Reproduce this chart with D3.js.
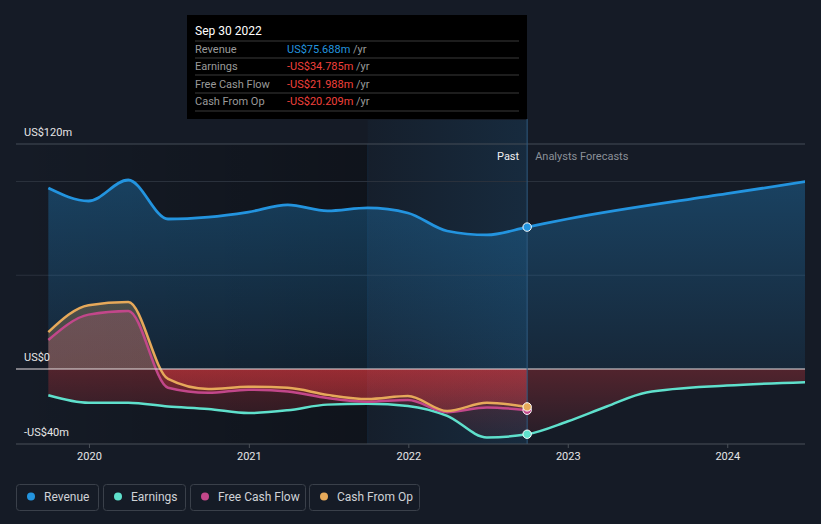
<!DOCTYPE html>
<html><head><meta charset="utf-8">
<script src="https://cdn.jsdelivr.net/npm/d3@7"></script>
<style>
html,body{margin:0;padding:0;background:#151b26;}
svg{display:block;font-family:Roboto,"Noto Sans",sans-serif;}
</style></head>
<body>
<svg id="c" width="821" height="524"></svg>
<script>
// ---- data ----
const pastDates = ["2019-09-30","2019-12-31","2020-03-31","2020-06-30","2020-09-30","2020-12-31","2021-03-31","2021-06-30","2021-09-30","2021-12-31","2022-03-31","2022-06-30","2022-09-30"];
const revenuePast = [96.5, 89.6, 100.8, 80.0, 81.0, 83.7, 87.5, 84.3, 85.9, 83.2, 73.6, 71.5, 75.688];
const earningsPast = [-14.0, -18.0, -18.0, -20.0, -21.3, -23.5, -22.0, -19.0, -18.5, -19.7, -25.0, -36.5, -34.785];
const fcfPast = [15.5, 29.0, 31.0, -10.0, -12.7, -11.0, -12.0, -15.5, -17.4, -16.5, -23.0, -20.5, -21.988];
const cfoPast = [19.7, 34.0, 35.7, -5.3, -10.7, -9.5, -10.0, -13.8, -16.0, -14.4, -22.4, -18.0, -20.209];
const forecastRevDates = ["2022-09-30","2022-12-31","2023-12-31","2024-06-30"];
const revenueForecast = [75.688, 80.0, 93.5, 100.0];
const forecastEarnDates = ["2022-09-30","2022-12-31","2023-03-31","2023-06-30","2023-12-31","2024-06-30"];
const earningsForecast = [-34.785, -28.0, -20.0, -12.5, -8.8, -7.0];
const yTickValues = [120, 0, -40];
const yTickLabels = ["US$120m", "US$0", "-US$40m"];
const yGridValues = [100, 50];
const xTickYears = [2020, 2021, 2022, 2023, 2024];
const seriesNames = ["Revenue", "Earnings", "Free Cash Flow", "Cash From Op"];
const seriesColors = ["#2394df", "#5fe0cc", "#c2478a", "#e6a95a"];
const tooltipTitle = "Sep 30 2022";
const tooltipValues = ["US$75.688m", "-US$34.785m", "-US$21.988m", "-US$20.209m"];

// ---- setup ----
const svg = d3.select("#c");
const W = 821, H = 524;
const pd = d3.timeParse("%Y-%m-%d");
const x = d3.scaleTime().domain([new Date(2019,6,18), new Date(2024,5,27)]).range([16, 805]);
const y = d3.scaleLinear().domain([-40, 120]).range([444, 144]);
const x0 = 16, x1 = 805;
const pastEnd = pd("2022-09-30");
const hlStart = pd("2021-09-30");

const defs = svg.append("defs");
defs.append("clipPath").attr("id","plot").append("rect").attr("x",x0).attr("y",100).attr("width",x1-x0).attr("height",344);

// background bands
const gDark = defs.append("linearGradient").attr("id","gDark").attr("x1",0).attr("x2",1).attr("y1",0).attr("y2",0);
gDark.append("stop").attr("offset",0).attr("stop-color","#000").attr("stop-opacity",0);
gDark.append("stop").attr("offset",1).attr("stop-color","#000").attr("stop-opacity",0.28);
svg.append("rect").attr("x",x0).attr("y",144).attr("width",x(hlStart)-x0).attr("height",300).attr("fill","url(#gDark)");

const gHl = defs.append("linearGradient").attr("id","gHl").attr("x1",0).attr("x2",1).attr("y1",0).attr("y2",0);
gHl.append("stop").attr("offset",0).attr("stop-color","#2394df").attr("stop-opacity",0.03);
gHl.append("stop").attr("offset",1).attr("stop-color","#2394df").attr("stop-opacity",0.13);
svg.append("rect").attr("x",x(hlStart)).attr("y",120).attr("width",x(pastEnd)-x(hlStart)).attr("height",324).attr("fill","url(#gHl)");
svg.append("line").attr("x1",x(hlStart)).attr("x2",x(hlStart)).attr("y1",144).attr("y2",444).attr("stroke","#2394df").attr("stroke-opacity",0.1);

// gridlines
svg.append("line").attr("x1",x0).attr("x2",x1).attr("y1",y(120)).attr("y2",y(120)).attr("stroke","#454c56").attr("stroke-width",1);
yGridValues.forEach(v=>{
  svg.append("line").attr("x1",x0).attr("x2",x1).attr("y1",y(v)).attr("y2",y(v)).attr("stroke","#2a313c").attr("stroke-width",1);
});

// series data
const mk = (ds, vs) => ds.map((d,i)=>({date:pd(d), v:vs[i]}));
const revAll = mk(pastDates, revenuePast).concat(mk(forecastRevDates, revenueForecast).slice(1));
const earnAll = mk(pastDates, earningsPast).concat(mk(forecastEarnDates, earningsForecast).slice(1));
const fcf = mk(pastDates, fcfPast);
const cfo = mk(pastDates, cfoPast);

const curve = d3.curveMonotoneX;
const line = d3.line().x(d=>x(d.date)).y(d=>y(d.v)).curve(curve);
const area = d3.area().x(d=>x(d.date)).y0(y(0)).y1(d=>y(d.v)).curve(curve);

const plot = svg.append("g").attr("clip-path","url(#plot)");

// revenue area gradient
const gRev = defs.append("linearGradient").attr("id","gRev").attr("gradientUnits","userSpaceOnUse").attr("x1",0).attr("x2",0).attr("y1",y(100)).attr("y2",y(0));
gRev.append("stop").attr("offset",0).attr("stop-color","#2394df").attr("stop-opacity",0.32);
gRev.append("stop").attr("offset",1).attr("stop-color","#2394df").attr("stop-opacity",0.1);
plot.append("path").datum(revAll).attr("d",area).attr("fill","url(#gRev)");

// sign-based gradients for the others
function signGrad(id, col){
  const g = defs.append("linearGradient").attr("id",id).attr("gradientUnits","userSpaceOnUse").attr("x1",0).attr("x2",0).attr("y1",y(120)).attr("y2",y(-40));
  const z = (y(0)-y(120))/(y(-40)-y(120));
  g.append("stop").attr("offset",0).attr("stop-color",col).attr("stop-opacity",0.25);
  g.append("stop").attr("offset",z).attr("stop-color",col).attr("stop-opacity",0.25);
  g.append("stop").attr("offset",z).attr("stop-color","#e0383e").attr("stop-opacity",0.3);
  g.append("stop").attr("offset",1).attr("stop-color","#e0383e").attr("stop-opacity",0.06);
}
signGrad("gE", seriesColors[1]);
signGrad("gF", seriesColors[2]);
signGrad("gC", seriesColors[3]);
plot.append("path").datum(earnAll).attr("d",area).attr("fill","url(#gE)");
plot.append("path").datum(fcf).attr("d",area).attr("fill","url(#gF)");
plot.append("path").datum(cfo).attr("d",area).attr("fill","url(#gC)");

// zero line
svg.append("line").attr("x1",x0).attr("x2",x1).attr("y1",y(0)).attr("y2",y(0)).attr("stroke","#e8e0e2").attr("stroke-width",1.2);

// lines
plot.append("path").datum(earnAll).attr("d",line).attr("fill","none").attr("stroke",seriesColors[1]).attr("stroke-width",2.5);
plot.append("path").datum(fcf).attr("d",line).attr("fill","none").attr("stroke",seriesColors[2]).attr("stroke-width",2.5);
plot.append("path").datum(cfo).attr("d",line).attr("fill","none").attr("stroke",seriesColors[3]).attr("stroke-width",2.5);
plot.append("path").datum(revAll).attr("d",line).attr("fill","none").attr("stroke",seriesColors[0]).attr("stroke-width",2.8);

// past/forecast divider
svg.append("line").attr("x1",x(pastEnd)).attr("x2",x(pastEnd)).attr("y1",119).attr("y2",444).attr("stroke","#2f5a80").attr("stroke-width",1);

// end dots
[[revenuePast,0],[fcfPast,2],[cfoPast,3],[earningsPast,1]].forEach(([arr,i])=>{
  svg.append("circle").attr("cx",x(pastEnd)).attr("cy",y(arr[arr.length-1])).attr("r",4.2)
    .attr("fill",seriesColors[i]).attr("stroke","#fff").attr("stroke-width",1);
});

// axes
svg.append("line").attr("x1",x0).attr("x2",x1).attr("y1",444).attr("y2",444).attr("stroke","#4a5058").attr("stroke-width",1);
const xa = svg.append("g").attr("transform","translate(0,444)")
  .call(d3.axisBottom(x).tickValues(xTickYears.map(yr=>new Date(yr,0,1))).tickFormat(d3.timeFormat("%Y")).tickSize(4).tickPadding(4));
xa.select(".domain").remove();
xa.selectAll(".tick line").attr("stroke","#4a5058");
xa.selectAll(".tick text").attr("fill","#e6e6e6").attr("font-size",11).attr("font-family","Roboto,sans-serif");

yTickValues.forEach((v,i)=>{
  svg.append("text").attr("x",24).attr("y",y(v)-8).text(yTickLabels[i]).attr("fill","#e6e6e6").attr("font-size",11);
});

// Past / forecasts labels
svg.append("text").attr("x",x(pastEnd)-8).attr("y",160).attr("text-anchor","end").text("Past").attr("fill","#f0f0f0").attr("font-size",11);
svg.append("text").attr("x",x(pastEnd)+8).attr("y",160).text("Analysts Forecasts").attr("fill","#8b9098").attr("font-size",11);

// tooltip
const tt = svg.append("g");
tt.append("rect").attr("x",187).attr("y",15).attr("width",340).attr("height",104).attr("fill","#000");
tt.append("text").attr("x",195).attr("y",35).text(tooltipTitle).attr("fill","#fff").attr("font-size",12);
const rowY = [49, 66, 84, 101];
[41,58,75,93,111].forEach(yy=>tt.append("line").attr("x1",195).attr("x2",519).attr("y1",yy).attr("y2",yy).attr("stroke","#3a3a3a"));
seriesNames.forEach((n,i)=>{
  tt.append("text").attr("x",195).attr("y",rowY[i]+4).text(n).attr("fill","#9a9a9a").attr("font-size",11);
  const t = tt.append("text").attr("x",287).attr("y",rowY[i]+4).attr("font-size",11);
  t.append("tspan").text(tooltipValues[i]).attr("fill", tooltipValues[i].startsWith("-") ? "#f0403c" : "#2394df");
  t.append("tspan").text(" /yr").attr("fill","#9a9a9a");
});

// legend
const legX = [16, 103, 190, 309];
const legW = [82, 82, 115, 110];
seriesNames.forEach((n,i)=>{
  const g = svg.append("g").attr("transform",`translate(${legX[i]},484)`);
  g.append("rect").attr("x",0.5).attr("y",0.5).attr("width",legW[i]).attr("height",26).attr("rx",3).attr("fill","none").attr("stroke","#3a404a");
  g.append("circle").attr("cx",15).attr("cy",12.5).attr("r",4).attr("fill",seriesColors[i]);
  g.append("text").attr("x",28).attr("y",17).text(n).attr("fill","#cfd2d6").attr("font-size",12);
});
</script>
</body></html>
